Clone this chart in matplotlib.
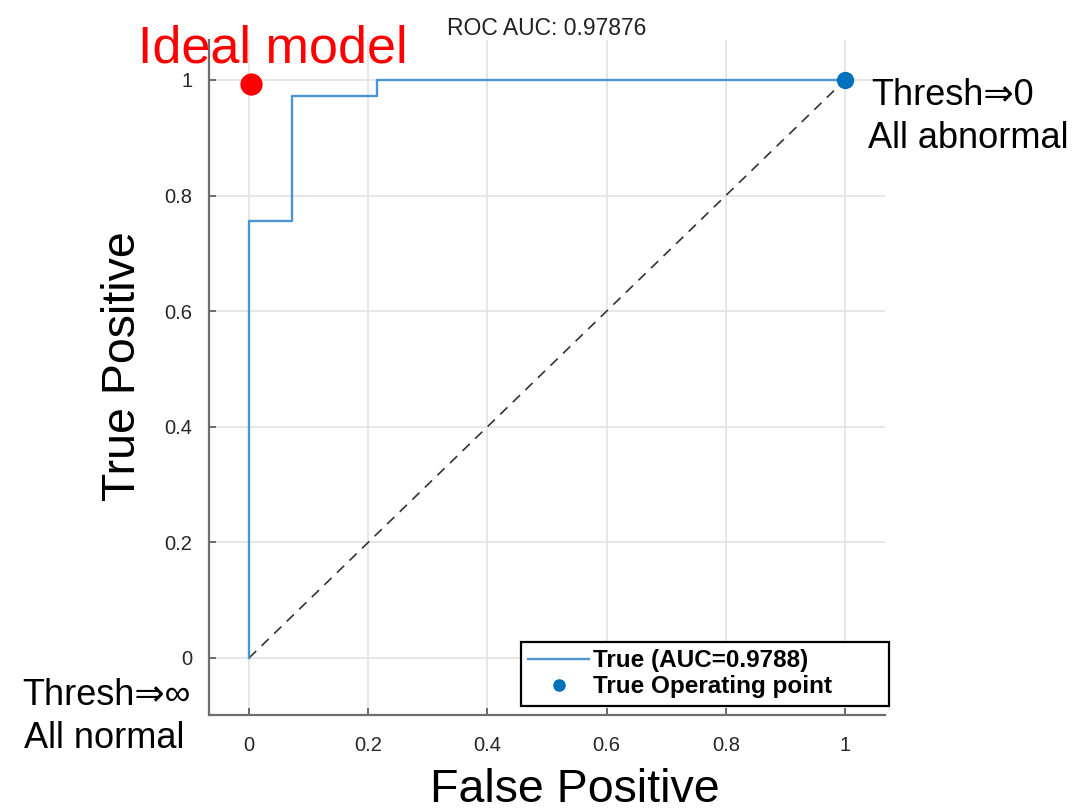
import matplotlib
matplotlib.use("Agg")
import matplotlib.pyplot as plt
import numpy as np

# ROC curve points (false positive rate, true positive rate)
fpr = [0.0, 0.0, 1 / 14, 1 / 14, 3 / 14, 3 / 14, 1.0]
tpr = [0.0, 28 / 37, 28 / 37, 36 / 37, 36 / 37, 1.0, 1.0]
auc_title = 0.97876
auc_legend = 0.9788
operating_point = (1.0, 1.0)
ideal_point = (0.004, 0.993)
ticks = [0, 0.2, 0.4, 0.6, 0.8, 1]

plt.rcParams["font.family"] = ["Liberation Sans", "DejaVu Sans"]

fig = plt.figure(figsize=(10.77, 8.11), dpi=100)
ax = fig.add_axes([209 / 1077, 1 - 715 / 811, 676 / 1077, 675 / 811])

ax.set_xlim(-0.0671, 1.067)
ax.set_ylim(-0.0986, 1.069)

# chance diagonal
ax.plot([0, 1], [0, 1], color="#333333", lw=1.2, ls=(0, (6, 4.5)), zorder=2)
# ROC curve
roc_line, = ax.plot(fpr, tpr, color="#4a95d2", lw=1.7, zorder=3,
                    label=f"True (AUC={auc_legend:.4f})")
# operating point
op, = ax.plot([operating_point[0]], [operating_point[1]], "o", color="#0072BD",
              ms=11.5, zorder=4, label="True Operating point", clip_on=False)
# ideal model point
ax.plot([ideal_point[0]], [ideal_point[1]], "o", color="#ff0000", ms=15,
        zorder=4, clip_on=False)

ax.set_xticks(ticks)
ax.set_yticks(ticks)
ax.set_xticklabels([f"{t:g}" for t in ticks])
ax.set_yticklabels([f"{t:g}" for t in ticks])
ax.tick_params(direction="in", length=5, width=1.2, colors="#555555",
               labelcolor="#262626", labelsize=14.5)
ax.tick_params(axis="x", pad=15)
ax.tick_params(axis="y", pad=12)
ax.grid(True, color="#e3e3e3", lw=1.2)
ax.set_axisbelow(True)
for s in ("top", "right"):
    ax.spines[s].set_visible(False)
for s in ("left", "bottom"):
    ax.spines[s].set_color("#6e6e6e")
    ax.spines[s].set_linewidth(1.6)

ax.set_title(f"ROC AUC: {auc_title:.5f}", fontsize=16.5, color="#222222", pad=3)

fig.text(575 / 1077, 1 - 790 / 811, "False Positive", fontsize=33.5,
         ha="center", va="center")
fig.text(123 / 1077, 1 - 366 / 811, "True Positive", fontsize=33.5,
         ha="center", va="center", rotation=90)

ax.text(-0.186, 1.03, "Ideal model", color="#ff0000", fontsize=37.5,
        va="baseline", ha="left", clip_on=False)
ax.text(1.0436, 0.957, "Thresh\u21d20", fontsize=26, va="baseline",
        ha="left", clip_on=False)
ax.text(1.0386, 0.882, "All abnormal", fontsize=26, va="baseline",
        ha="left", clip_on=False)
ax.text(-0.381, -0.081, "Thresh\u21d2\u221e", fontsize=26, va="baseline",
        ha="left", clip_on=False)
ax.text(-0.378, -0.156, "All normal", fontsize=26, va="baseline",
        ha="left", clip_on=False)

leg = ax.legend(handles=[roc_line, op], loc="upper left",
                bbox_to_anchor=(0.4615, 0.0, 0.544, 0.108), mode="expand",
                borderaxespad=0,
                fancybox=False, framealpha=1, edgecolor="black",
                prop={"weight": "bold", "size": 17.5}, handlelength=2.5,
                handletextpad=0.15, borderpad=0.3, labelspacing=0.12,
                markerscale=0.7)
leg.get_frame().set_linewidth(1.6)
leg.set_zorder(10)

fig.savefig("out.png", dpi=100)
